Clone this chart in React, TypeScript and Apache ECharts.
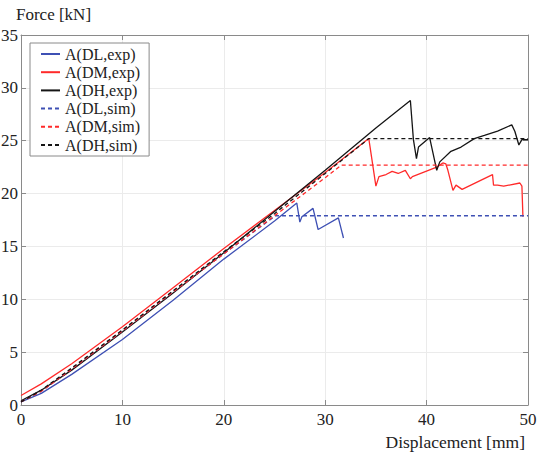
import React, { useEffect, useRef } from "react";
import * as echarts from "echarts";

// ---- data ----
const dlExpX = [0, 2, 5, 10, 15, 20, 25, 27.2, 27.5, 27.7, 28.8, 29.3, 31.3, 31.8, 31.7];
const dlExpY = [0.3, 1.1, 2.9, 6.2, 9.9, 13.8, 17.4, 19.1, 17.3, 17.8, 18.6, 16.6, 17.7, 15.8, 16.2];

const dmExpX = [0, 2, 5, 10, 15, 20, 25, 30, 34.3, 35.0, 35.3, 36.0, 36.6, 37.2, 37.9, 38.4, 38.6, 41.0, 41.6, 41.9, 42.1, 42.6, 42.9, 43.5, 46.5, 46.6, 47.0, 47.6, 49.2, 49.4, 49.5];
const dmExpY = [0.9, 2.0, 3.9, 7.4, 11.1, 14.8, 18.4, 22.0, 25.2, 20.7, 21.6, 21.8, 22.1, 21.9, 22.2, 21.4, 21.6, 22.5, 22.9, 22.8, 22.2, 20.3, 20.8, 20.4, 21.8, 20.8, 20.8, 20.7, 21.0, 20.7, 17.8];

const dhExpX = [0, 2, 5, 10, 15, 20, 25, 30, 35, 38.4, 38.7, 39.0, 39.2, 40.3, 41.0, 41.3, 42.4, 43.4, 44.7, 45.7, 47.0, 48.4, 48.7, 49.1, 49.4, 50];
const dhExpY = [0.4, 1.4, 3.3, 6.9, 10.6, 14.4, 18.3, 22.2, 26.2, 28.8, 25.1, 23.3, 24.4, 25.3, 22.2, 23.0, 24.0, 24.4, 25.2, 25.5, 25.9, 26.5, 25.9, 24.6, 25.1, 25.1];

const dlSimX = [0, 2, 5, 10, 15, 20, 25.1, 50];
const dlSimY = [0.3, 1.3, 3.4, 7.0, 10.7, 14.3, 17.9, 17.9];

const dmSimX = [0, 2, 5, 10, 15, 20, 25, 30, 31.6, 50];
const dmSimY = [0.3, 1.3, 3.4, 7.0, 10.7, 14.3, 17.9, 21.5, 22.7, 22.7];

const dhSimX = [0, 2, 5, 10, 15, 20, 25, 30, 34.3, 50];
const dhSimY = [0.3, 1.4, 3.5, 7.1, 10.8, 14.5, 18.1, 21.9, 25.2, 25.2];

const seriesNames = ["A(DL,exp)", "A(DM,exp)", "A(DH,exp)", "A(DL,sim)", "A(DM,sim)", "A(DH,sim)"];
const xTicks = { min: 0, max: 50, interval: 10 };
const yTicks = { min: 0, max: 35, interval: 5 };
const xTitle = "Displacement [mm]";
const yTitle = "Force [kN]";

const BLUE = "#3e50b4";
const RED = "#ff2a2a";
const BLACK = "#151515";
const FONT = "serif";

const zip = (xs: number[], ys: number[]) => xs.map((x, i) => [x, ys[i]]);

export default function App() {
  const ref = useRef<HTMLDivElement>(null);
  useEffect(() => {
    if (!ref.current) return;
    const chart = echarts.init(ref.current, null, { renderer: "svg" });
    const mk = (name: string, xs: number[], ys: number[], color: string, dashed: boolean) => ({
      name,
      type: "line",
      data: zip(xs, ys),
      symbol: "none",
      smooth: false,
      lineStyle: { color, width: 1.3, type: dashed ? [4, 3] : "solid" },
      itemStyle: { color },
      z: dashed ? 3 : 2,
    });
    const axisCommon = {
      type: "value",
      axisLine: { show: true, onZero: false, lineStyle: { color: "#8a8a8a", width: 1 } },
      axisTick: { show: true, inside: true, length: 5, lineStyle: { color: "#8a8a8a" } },
    };
    chart.setOption({
      animation: false,
      backgroundColor: "#ffffff",
      grid: { left: 21, right: 13, top: 35, bottom: 49, containLabel: false, outerBoundsMode: "none" },
      xAxis: [
        {
          ...axisCommon,
          ...xTicks,
          position: "bottom",
          axisLabel: { fontSize: 17, fontFamily: FONT, color: "#222", margin: 6 },
          splitLine: { show: true, lineStyle: { color: "#ebebeb", width: 1 } },
        },
        {
          ...axisCommon,
          ...xTicks,
          position: "top",
          axisLabel: { show: false },
          splitLine: { show: false },
        },
      ],
      yAxis: [
        {
          ...axisCommon,
          ...yTicks,
          position: "left",
          axisLabel: { fontSize: 17, fontFamily: FONT, color: "#222", margin: 3 },
          splitLine: { show: true, lineStyle: { color: "#ebebeb", width: 1 } },
        },
        {
          ...axisCommon,
          ...yTicks,
          position: "right",
          axisLabel: { show: false },
          splitLine: { show: false },
        },
      ],
      legend: {
        data: seriesNames,
        orient: "vertical",
        left: 30,
        top: 43,
        itemWidth: 19,
        itemHeight: 10,
        itemGap: 2.2,
        padding: [3, 9, 3, 10],
        borderColor: "#8a8a8a",
        borderWidth: 1,
        borderRadius: 0,
        backgroundColor: "#ffffff",
        itemStyle: { opacity: 0 },
        textStyle: { fontSize: 16, fontFamily: FONT, color: "#222", lineHeight: 16 },
      },
      graphic: [
        {
          type: "text",
          left: 16,
          top: 6,
          style: { text: yTitle, fontSize: 17, fontFamily: FONT, fill: "#222" },
        },
        {
          type: "text",
          right: 16,
          top: 433,
          style: { text: xTitle, fontSize: 17.5, fontFamily: FONT, fill: "#222" },
        },
      ],
      series: [
        mk(seriesNames[0], dlExpX, dlExpY, BLUE, false),
        mk(seriesNames[1], dmExpX, dmExpY, RED, false),
        mk(seriesNames[2], dhExpX, dhExpY, BLACK, false),
        mk(seriesNames[3], dlSimX, dlSimY, BLUE, true),
        mk(seriesNames[4], dmSimX, dmSimY, RED, true),
        mk(seriesNames[5], dhSimX, dhSimY, BLACK, true),
      ],
    });
    return () => chart.dispose();
  }, []);
  return (
    <div
      ref={ref}
      style={{ position: "absolute", left: 0, top: 0, width: 541, height: 454 }}
    />
  );
}
